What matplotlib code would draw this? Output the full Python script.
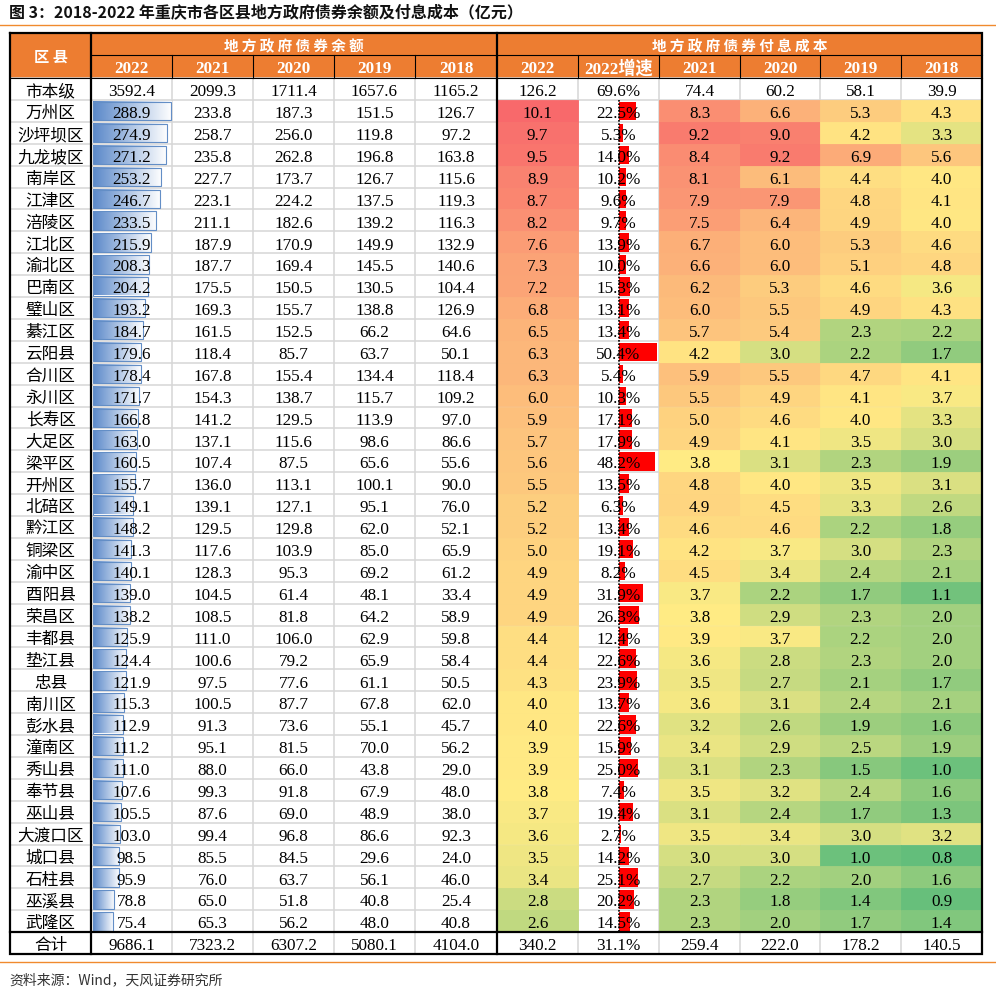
#!/usr/bin/env python3
"""Chongqing district local government bond balance and interest cost table (2018-2022)."""

import matplotlib
import numpy as np

matplotlib.use("Agg")
import matplotlib.pyplot as plt
from matplotlib.colors import LinearSegmentedColormap, Normalize
from matplotlib.patches import Rectangle

districts = [
    "万州区", "沙坪坝区", "九龙坡区", "南岸区", "江津区", "涪陵区", "江北区", "渝北区",
    "巴南区", "璧山区", "綦江区", "云阳县", "合川区", "永川区", "长寿区", "大足区",
    "梁平区", "开州区", "北碚区", "黔江区", "铜梁区", "渝中区", "酉阳县", "荣昌区",
    "丰都县", "垫江县", "忠县", "南川区", "彭水县", "潼南区", "秀山县", "奉节县",
    "巫山县", "大渡口区", "城口县", "石柱县", "巫溪县", "武隆区",
]

# bond balance (亿元)
bal_2022 = [288.9, 274.9, 271.2, 253.2, 246.7, 233.5, 215.9, 208.3, 204.2, 193.2, 184.7, 179.6, 178.4,
            171.7, 166.8, 163.0, 160.5, 155.7, 149.1, 148.2, 141.3, 140.1, 139.0, 138.2, 125.9, 124.4,
            121.9, 115.3, 112.9, 111.2, 111.0, 107.6, 105.5, 103.0, 98.5, 95.9, 78.8, 75.4]
bal_2021 = [233.8, 258.7, 235.8, 227.7, 223.1, 211.1, 187.9, 187.7, 175.5, 169.3, 161.5, 118.4, 167.8,
            154.3, 141.2, 137.1, 107.4, 136.0, 139.1, 129.5, 117.6, 128.3, 104.5, 108.5, 111.0, 100.6,
            97.5, 100.5, 91.3, 95.1, 88.0, 99.3, 87.6, 99.4, 85.5, 76.0, 65.0, 65.3]
bal_2020 = [187.3, 256.0, 262.8, 173.7, 224.2, 182.6, 170.9, 169.4, 150.5, 155.7, 152.5, 85.7, 155.4,
            138.7, 129.5, 115.6, 87.5, 113.1, 127.1, 129.8, 103.9, 95.3, 61.4, 81.8, 106.0, 79.2,
            77.6, 87.7, 73.6, 81.5, 66.0, 91.8, 69.0, 96.8, 84.5, 63.7, 51.8, 56.2]
bal_2019 = [151.5, 119.8, 196.8, 126.7, 137.5, 139.2, 149.9, 145.5, 130.5, 138.8, 66.2, 63.7, 134.4,
            115.7, 113.9, 98.6, 65.6, 100.1, 95.1, 62.0, 85.0, 69.2, 48.1, 64.2, 62.9, 65.9,
            61.1, 67.8, 55.1, 70.0, 43.8, 67.9, 48.9, 86.6, 29.6, 56.1, 40.8, 48.0]
bal_2018 = [126.7, 97.2, 163.8, 115.6, 119.3, 116.3, 132.9, 140.6, 104.4, 126.9, 64.6, 50.1, 118.4,
            109.2, 97.0, 86.6, 55.6, 90.0, 76.0, 52.1, 65.9, 61.2, 33.4, 58.9, 59.8, 58.4,
            50.5, 62.0, 45.7, 56.2, 29.0, 48.0, 38.0, 92.3, 24.0, 46.0, 25.4, 40.8]

# interest cost (亿元) and 2022 growth (%)
cost_2022 = [10.1, 9.7, 9.5, 8.9, 8.7, 8.2, 7.6, 7.3, 7.2, 6.8, 6.5, 6.3, 6.3, 6.0, 5.9, 5.7, 5.6, 5.5,
             5.2, 5.2, 5.0, 4.9, 4.9, 4.9, 4.4, 4.4, 4.3, 4.0, 4.0, 3.9, 3.9, 3.8, 3.7, 3.6, 3.5, 3.4,
             2.8, 2.6]
growth_2022 = [22.5, 5.3, 14.0, 10.2, 9.6, 9.7, 13.9, 10.0, 15.3, 13.1, 13.4, 50.4, 5.4, 10.3, 17.1,
               17.9, 48.2, 13.5, 6.3, 13.4, 19.1, 8.2, 31.9, 26.3, 12.4, 22.6, 23.9, 13.7, 22.6, 15.9,
               25.0, 7.4, 19.4, 2.7, 14.2, 25.1, 20.2, 14.5]
cost_2021 = [8.3, 9.2, 8.4, 8.1, 7.9, 7.5, 6.7, 6.6, 6.2, 6.0, 5.7, 4.2, 5.9, 5.5, 5.0, 4.9, 3.8, 4.8,
             4.9, 4.6, 4.2, 4.5, 3.7, 3.8, 3.9, 3.6, 3.5, 3.6, 3.2, 3.4, 3.1, 3.5, 3.1, 3.5, 3.0, 2.7,
             2.3, 2.3]
cost_2020 = [6.6, 9.0, 9.2, 6.1, 7.9, 6.4, 6.0, 6.0, 5.3, 5.5, 5.4, 3.0, 5.5, 4.9, 4.6, 4.1, 3.1, 4.0,
             4.5, 4.6, 3.7, 3.4, 2.2, 2.9, 3.7, 2.8, 2.7, 3.1, 2.6, 2.9, 2.3, 3.2, 2.4, 3.4, 3.0, 2.2,
             1.8, 2.0]
cost_2019 = [5.3, 4.2, 6.9, 4.4, 4.8, 4.9, 5.3, 5.1, 4.6, 4.9, 2.3, 2.2, 4.7, 4.1, 4.0, 3.5, 2.3, 3.5,
             3.3, 2.2, 3.0, 2.4, 1.7, 2.3, 2.2, 2.3, 2.1, 2.4, 1.9, 2.5, 1.5, 2.4, 1.7, 3.0, 1.0, 2.0,
             1.4, 1.7]
cost_2018 = [4.3, 3.3, 5.6, 4.0, 4.1, 4.0, 4.6, 4.8, 3.6, 4.3, 2.2, 1.7, 4.1, 3.7, 3.3, 3.0, 1.9, 3.1,
             2.6, 1.8, 2.3, 2.1, 1.1, 2.0, 2.0, 2.0, 1.7, 2.1, 1.6, 1.9, 1.0, 1.6, 1.3, 3.2, 0.8, 1.6,
             0.9, 1.4]

city_label = "市本级"
city_bal = [3592.4, 2099.3, 1711.4, 1657.6, 1165.2]
city_cost = [126.2, 69.6, 74.4, 60.2, 58.1, 39.9]
total_label = "合计"
total_bal = [9686.1, 7323.2, 6307.2, 5080.1, 4104.0]
total_cost = [340.2, 31.1, 259.4, 222.0, 178.2, 140.5]

bal_years = ["2022", "2021", "2020", "2019", "2018"]
cost_headers = ["2022", "2022增速", "2021", "2020", "2019", "2018"]

TITLE = "图 3：2018-2022 年重庆市各区县地方政府债券余额及付息成本（亿元）"
SOURCE = "资料来源：Wind，天风证券研究所"

# layout (pixels)
COL_EDGES = [10, 91, 172, 253, 334, 415, 497, 578, 659, 740, 820, 901, 982]
HEADER_TOP, HEADER_MID, HEADER_BOTTOM = 33, 55, 78
ROW_H = 21.9

ORANGE = "#ED7D31"
GRID = "#D6D6D6"
CJK = ["Noto Sans CJK SC", "DejaVu Sans"]
SERIF = ["Liberation Serif", "Noto Sans CJK SC"]
NUM_SIZE = 12.3


def row_top(i):
    return HEADER_BOTTOM + i * ROW_H


def col_center(j):
    return (COL_EDGES[j] + COL_EDGES[j + 1]) / 2


def cell_text(ax, j, i, s, family=SERIF, size=NUM_SIZE):
    ax.text(col_center(j), row_top(i) + 18.2, s, ha="center", va="baseline",
            fontsize=size, family=family, color="black", zorder=6)


def main():
    fig = plt.figure(figsize=(9.96, 9.91), dpi=100)
    ax = fig.add_axes([0, 0, 1, 1])
    ax.set_xlim(0, 996)
    ax.set_ylim(991, 0)
    ax.axis("off")

    n = len(districts)
    n_rows = n + 2
    left, right = COL_EDGES[0], COL_EDGES[-1]
    table_bottom = row_top(n_rows)

    # title and rules
    ax.text(9, 17.5, TITLE, ha="left", va="baseline", fontsize=11.5, fontweight="bold",
            family=CJK, color="#111111")
    ax.plot([0, 996], [25, 25], color="#F08A2E", lw=1.0)
    ax.plot([0, 996], [962, 962], color="#F08A2E", lw=1.0)
    ax.text(9, 984, SOURCE, ha="left", va="baseline", fontsize=10, family=CJK, color="#333333")

    # header block
    ax.add_patch(Rectangle((left, HEADER_TOP), right - left, HEADER_BOTTOM - HEADER_TOP,
                           facecolor=ORANGE, edgecolor="none", zorder=1))
    ax.text((COL_EDGES[0] + COL_EDGES[1]) / 2, 62, "区 县", ha="center", va="baseline",
            fontsize=11, fontweight="bold", family=CJK, color="white", zorder=6)
    ax.text((COL_EDGES[1] + COL_EDGES[6]) / 2, 51.5, " ".join("地方政府债券余额"), ha="center",
            va="baseline", fontsize=10.5, fontweight="bold", family=CJK, color="white", zorder=6)
    ax.text((COL_EDGES[6] + COL_EDGES[12]) / 2, 51.5, " ".join("地方政府债券付息成本"), ha="center",
            va="baseline", fontsize=10.5, fontweight="bold", family=CJK, color="white", zorder=6)
    for j, lab in enumerate(bal_years + cost_headers, start=1):
        ax.text(col_center(j), 73.3, lab, ha="center", va="baseline", fontsize=12.3,
                fontweight="bold", family=SERIF, color="white", zorder=6)

    # light grid in body
    for i in range(n_rows + 1):
        ax.plot([left, right], [row_top(i)] * 2, color=GRID, lw=1.1, zorder=1)
    for x in COL_EDGES:
        ax.plot([x, x], [HEADER_BOTTOM, table_bottom], color=GRID, lw=1.1, zorder=1)

    # heatmap for interest cost (one 3-colour scale over all years)
    cost_cols = {6: cost_2022, 8: cost_2021, 9: cost_2020, 10: cost_2019, 11: cost_2018}
    all_cost = np.array(list(cost_cols.values()), dtype=float)
    vmin, vmax = all_cost.min(), all_cost.max()
    mid = (np.percentile(all_cost, 50) - vmin) / (vmax - vmin)
    cmap = LinearSegmentedColormap.from_list(
        "excel3", [(0.0, "#63BE7B"), (mid, "#FFEB84"), (1.0, "#F8696B")])
    norm = Normalize(vmin, vmax)
    for j, vals in cost_cols.items():
        for i, v in enumerate(vals, start=1):
            c = cmap(norm(v))
            ax.add_patch(Rectangle((COL_EDGES[j], row_top(i)), COL_EDGES[j + 1] - COL_EDGES[j], ROW_H,
                                   facecolor=c, edgecolor=c, lw=0.6, zorder=2))

    # blue gradient data bars for 2022 balance
    blue = LinearSegmentedColormap.from_list("bar", ["#5A88C9", "#FFFFFF"])
    grad = np.linspace(0, 1, 256).reshape(1, -1)
    max_len = COL_EDGES[2] - COL_EDGES[1] - 2.5
    bmax = max(bal_2022)
    for i, v in enumerate(bal_2022, start=1):
        x0 = COL_EDGES[1] + 1.5
        x1 = x0 + v / bmax * max_len
        y0, y1 = row_top(i) + 2, row_top(i + 1) - 1.5
        ax.imshow(grad, extent=[x0, x1, y1, y0], cmap=blue, aspect="auto", zorder=3,
                  interpolation="bilinear")
        ax.add_patch(Rectangle((x0, y0), x1 - x0, y1 - y0, facecolor="none",
                               edgecolor="#638EC6", lw=0.8, zorder=3.5))

    # red data bars for 2022 growth
    axis_x = col_center(7)
    g_len = COL_EDGES[8] - axis_x - 2
    gmax = max(growth_2022)
    for i, v in enumerate(growth_2022, start=1):
        y0, y1 = row_top(i) + 2, row_top(i + 1) - 1.5
        ax.add_patch(Rectangle((axis_x, y0), v / gmax * g_len, y1 - y0,
                               facecolor="#FF0000", edgecolor="none", zorder=3))
    ax.plot([axis_x, axis_x], [row_top(1), row_top(n + 1)], color="black", lw=1.2,
            linestyle=(0, (1, 1)), zorder=4)

    # cell texts
    cell_text(ax, 0, 0, city_label, family=CJK, size=12)
    for j, v in enumerate(city_bal, start=1):
        cell_text(ax, j, 0, f"{v:.1f}")
    for k, v in enumerate(city_cost):
        cell_text(ax, 6 + k, 0, f"{v:.1f}%" if k == 1 else f"{v:.1f}")

    body_cols = [bal_2022, bal_2021, bal_2020, bal_2019, bal_2018,
                 cost_2022, growth_2022, cost_2021, cost_2020, cost_2019, cost_2018]
    for i, name in enumerate(districts, start=1):
        cell_text(ax, 0, i, name, family=CJK, size=12)
        for j, vals in enumerate(body_cols, start=1):
            s = f"{vals[i - 1]:.1f}%" if j == 7 else f"{vals[i - 1]:.1f}"
            cell_text(ax, j, i, s)

    cell_text(ax, 0, n + 1, total_label, family=CJK, size=12)
    for j, v in enumerate(total_bal, start=1):
        cell_text(ax, j, n + 1, f"{v:.1f}")
    for k, v in enumerate(total_cost):
        cell_text(ax, 6 + k, n + 1, f"{v:.1f}%" if k == 1 else f"{v:.1f}")

    # black borders
    thick, thin = 1.6, 0.8
    ax.plot([left, right, right, left, left],
            [HEADER_TOP, HEADER_TOP, table_bottom, table_bottom, HEADER_TOP],
            color="black", lw=thick, zorder=5, solid_joinstyle="miter")
    for x in (COL_EDGES[1], COL_EDGES[6]):
        ax.plot([x, x], [HEADER_TOP, table_bottom], color="black", lw=thick, zorder=5)
    ax.plot([left, right], [row_top(n + 1)] * 2, color="black", lw=thick, zorder=5)
    ax.plot([COL_EDGES[1], right], [HEADER_MID] * 2, color="black", lw=thin, zorder=5)
    ax.plot([left, right], [HEADER_BOTTOM] * 2, color="black", lw=thin, zorder=5)
    for x in COL_EDGES[2:6] + COL_EDGES[7:12]:
        ax.plot([x, x], [HEADER_MID, HEADER_BOTTOM], color="black", lw=thin, zorder=5)

    ax.set_xlim(0, 996)
    ax.set_ylim(991, 0)
    fig.savefig("out.png", dpi=100)
    plt.close(fig)


if __name__ == "__main__":
    main()
